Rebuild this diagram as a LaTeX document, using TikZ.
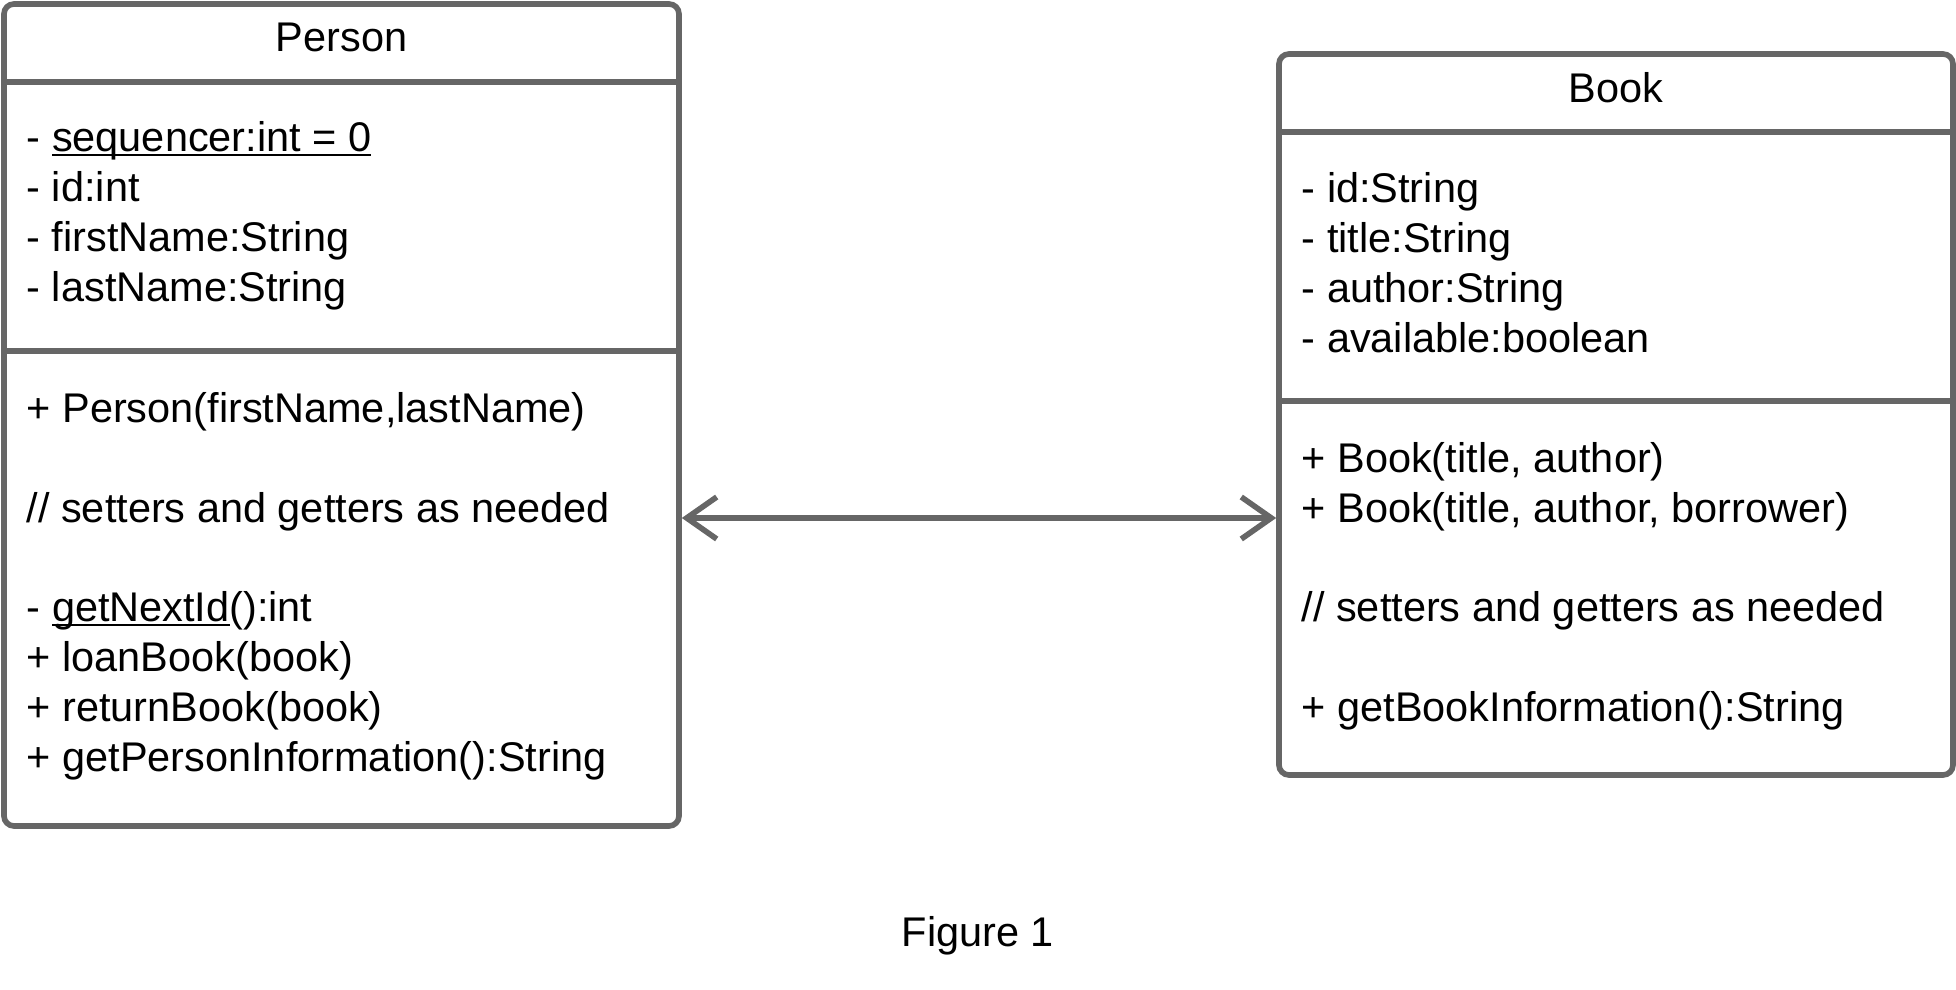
\documentclass[tikz,border=0pt]{standalone}
\usepackage{fontspec}
\setmainfont{Liberation Sans}
\usetikzlibrary{arrows.meta,positioning}
\definecolor{umlgray}{HTML}{666666}
\newcommand{\umlstatic}[1]{\leavevmode\sbox0{#1}\rlap{\rule[-0.1em]{\wd0}{0.05em}}\usebox0}
\tikzset{
  umlclass/.style={draw=umlgray,line width=1.6pt,rounded corners=1mm,inner sep=0pt},
  umlsep/.style={draw=umlgray,line width=1.6pt},
  umlname/.style={anchor=base,inner sep=0pt},
  umlmember/.style={anchor=base west,inner sep=0pt},
  umlassoc/.style={{Straight Barb[length=3mm,width=4.2mm]}-{Straight Barb[length=3mm,width=4.2mm]},draw=umlgray,line width=1.6pt}
}

\begin{document}
\begin{tikzpicture}[font=\fontsize{11.8}{14}\selectfont]
  \useasboundingbox (0,0) rectangle (19.56,9.9);
  % class boxes
  \node[umlclass,minimum width=6.75cm,minimum height=8.22cm] (personbox) at (3.415,5.75) {};
  \node[umlclass,minimum width=6.74cm,minimum height=7.21cm] (bookbox) at (16.16,5.755) {};
  \draw[umlsep] ([yshift=-0.81cm]personbox.north west) -- ([yshift=-0.81cm]personbox.north east);
  \draw[umlsep] ([yshift=-3.5cm]personbox.north west) -- ([yshift=-3.5cm]personbox.north east);
  \draw[umlsep] ([yshift=-0.81cm]bookbox.north west) -- ([yshift=-0.81cm]bookbox.north east);
  \draw[umlsep] ([yshift=-3.5cm]bookbox.north west) -- ([yshift=-3.5cm]bookbox.north east);
  % Person
  \node[umlname] (pname) at (3.415,9.38) {Person};
  \node[umlmember] (pattr1) at (0.26,8.38) {- \umlstatic{sequencer:int = 0}};
  \node[umlmember] (pattr2) at (0.26,7.88) {- id:int};
  \node[umlmember] (pattr3) at (0.26,7.38) {- firstName:String};
  \node[umlmember] (pattr4) at (0.26,6.88) {- lastName:String};
  \node[umlmember] (pop1) at (0.26,5.67) {+ Person(firstName,lastName)};
  \node[umlmember] (pop2) at (0.26,4.67) {// setters and getters as needed};
  \node[umlmember] (pop3) at (0.26,3.68) {- \umlstatic{getNextId}():int};
  \node[umlmember] (pop4) at (0.26,3.18) {+ loanBook(book)};
  \node[umlmember] (pop5) at (0.26,2.68) {+ returnBook(book)};
  \node[umlmember] (pop6) at (0.26,2.18) {+ getPersonInformation():String};
  % Book
  \node[umlname] (bname) at (16.16,8.87) {Book};
  \node[umlmember] (battr1) at (13.01,7.87) {- id:String};
  \node[umlmember] (battr2) at (13.01,7.37) {- title:String};
  \node[umlmember] (battr3) at (13.01,6.87) {- author:String};
  \node[umlmember] (battr4) at (13.01,6.37) {- available:boolean};
  \node[umlmember] (bop1) at (13.01,5.17) {+ Book(title, author)};
  \node[umlmember] (bop2) at (13.01,4.67) {+ Book(title, author, borrower)};
  \node[umlmember] (bop3) at (13.01,3.68) {// setters and getters as needed};
  \node[umlmember] (bop4) at (13.01,2.68) {+ getBookInformation():String};
  % association
  \coordinate (assocy) at (0,4.72);
  \draw[umlassoc] (personbox.east |- assocy) -- (bookbox.west |- assocy);
  \node[umlname] (caption) at (9.78,0.43) {Figure 1};
\end{tikzpicture}
\end{document}
